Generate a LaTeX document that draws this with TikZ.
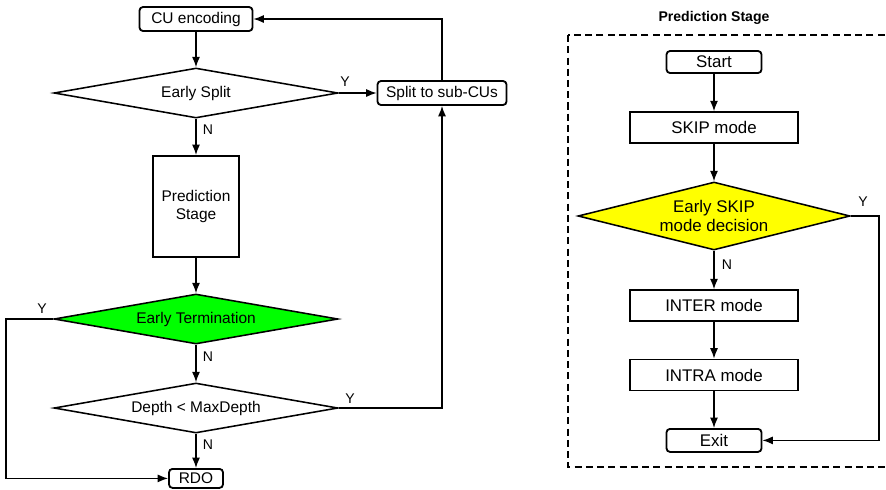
\documentclass[tikz,border=0pt]{standalone}
\usepackage{fontspec}
\setmainfont{Liberation Sans}
\usepackage{tikz}
\usetikzlibrary{arrows.meta,shapes.geometric}

\begin{document}
\begin{tikzpicture}[>={Latex[length=2.6mm,width=2mm]}, line width=0.9pt,
    font=\fontsize{11}{13}\selectfont,
    rbox/.style={draw, line width=1.3pt, rounded corners=2.5pt, inner sep=0pt},
    sbox/.style={draw, line width=1.3pt, inner sep=0pt, align=center},
    cond/.style={draw, diamond, line width=1.1pt, inner sep=0pt, align=center,
        aspect=5.68, minimum width=7.1cm, minimum height=1.25cm},
    yn/.style={font=\fontsize{10}{12}\selectfont},
    big/.style={font=\fontsize{12}{14}\selectfont}]
    \useasboundingbox (0,0) rectangle (22.15,-12.225);

    % 左侧流程
    \node[rbox, minimum width=2.825cm, minimum height=0.6cm] (cu) at (4.9,-0.475) {CU encoding};
    \node[cond] (es) at (4.9,-2.325) {Early Split};
    \node[rbox, minimum width=3.225cm, minimum height=0.6cm] (split) at (11.05,-2.325) {Split to sub-CUs};
    \node[sbox, minimum width=2.15cm, minimum height=2.525cm] (pred) at (4.9,-5.16) {Prediction\\Stage};
    \node[cond, fill={rgb,255:red,0;green,255;blue,0}] (et) at (4.9,-7.975) {Early Termination};
    \node[cond] (dd) at (4.9,-10.2) {Depth < MaxDepth};
    \node[rbox, minimum width=1.35cm, minimum height=0.475cm] (rdo) at (4.9,-11.96) {RDO};

    % 左侧连线
    \draw[->] (cu) -- (es);
    \draw[->] (es) -- (split);
    \draw[->] (es) -- (pred);
    \draw[->] (pred) -- (et);
    \draw[->] (et) -- (dd);
    \draw[->] (dd) -- (rdo);
    \draw[->] (split.north) |- (cu.east);
    \draw[->] (dd.east) -| (split.south);
    \coordinate (etl) at (0.15,-7.975);
    \draw[->] (et.west) -- (etl) |- (rdo.west);

    % Y / N 标注
    \node[yn] (esy) at (8.625,-2.05) {Y};
    \node[yn] (esn) at (5.2,-3.25) {N};
    \node[yn] (ety) at (1.05,-7.725) {Y};
    \node[yn] (etn) at (5.2,-8.925) {N};
    \node[yn] (ddy) at (8.75,-9.975) {Y};
    \node[yn] (ddn) at (5.2,-11.125) {N};

    % 右侧: Prediction Stage
    \node[font=\fontsize{10}{12}\selectfont\bfseries] (title) at (17.85,-0.45) {Prediction Stage};
    \draw[dashed, line width=1.1pt, dash pattern=on 5pt off 3pt] (14.2,-0.875) rectangle (22.4,-11.675);

    \node[rbox, big, minimum width=2.375cm, minimum height=0.55cm] (start) at (17.85,-1.55) {Start};
    \node[sbox, big, minimum width=4.2cm, minimum height=0.775cm] (skip) at (17.85,-3.19) {SKIP mode};
    \node[cond, big, fill={rgb,255:red,255;green,255;blue,0}, aspect=4, minimum width=6.8cm, minimum height=1.7cm] (esk) at (17.85,-5.4) {Early SKIP\\mode decision};
    \node[sbox, big, minimum width=4.2cm, minimum height=0.775cm] (inter) at (17.85,-7.64) {INTER mode};
    \node[sbox, big, minimum width=4.2cm, minimum height=0.775cm] (intra) at (17.85,-9.375) {INTRA mode};
    \node[rbox, big, minimum width=2.375cm, minimum height=0.575cm] (exit) at (17.85,-11.01) {Exit};

    % 右侧连线
    \draw[->] (start) -- (skip);
    \draw[->] (skip) -- (esk);
    \draw[->] (esk) -- (inter);
    \draw[->] (inter) -- (intra);
    \draw[->] (intra) -- (exit);
    \coordinate (eskr) at (21.975,-5.4);
    \draw[->] (esk.east) -- (eskr) |- (exit.east);

    \node[yn] (esky) at (21.575,-5.05) {Y};
    \node[yn] (eskn) at (18.175,-6.625) {N};
\end{tikzpicture}
\end{document}
